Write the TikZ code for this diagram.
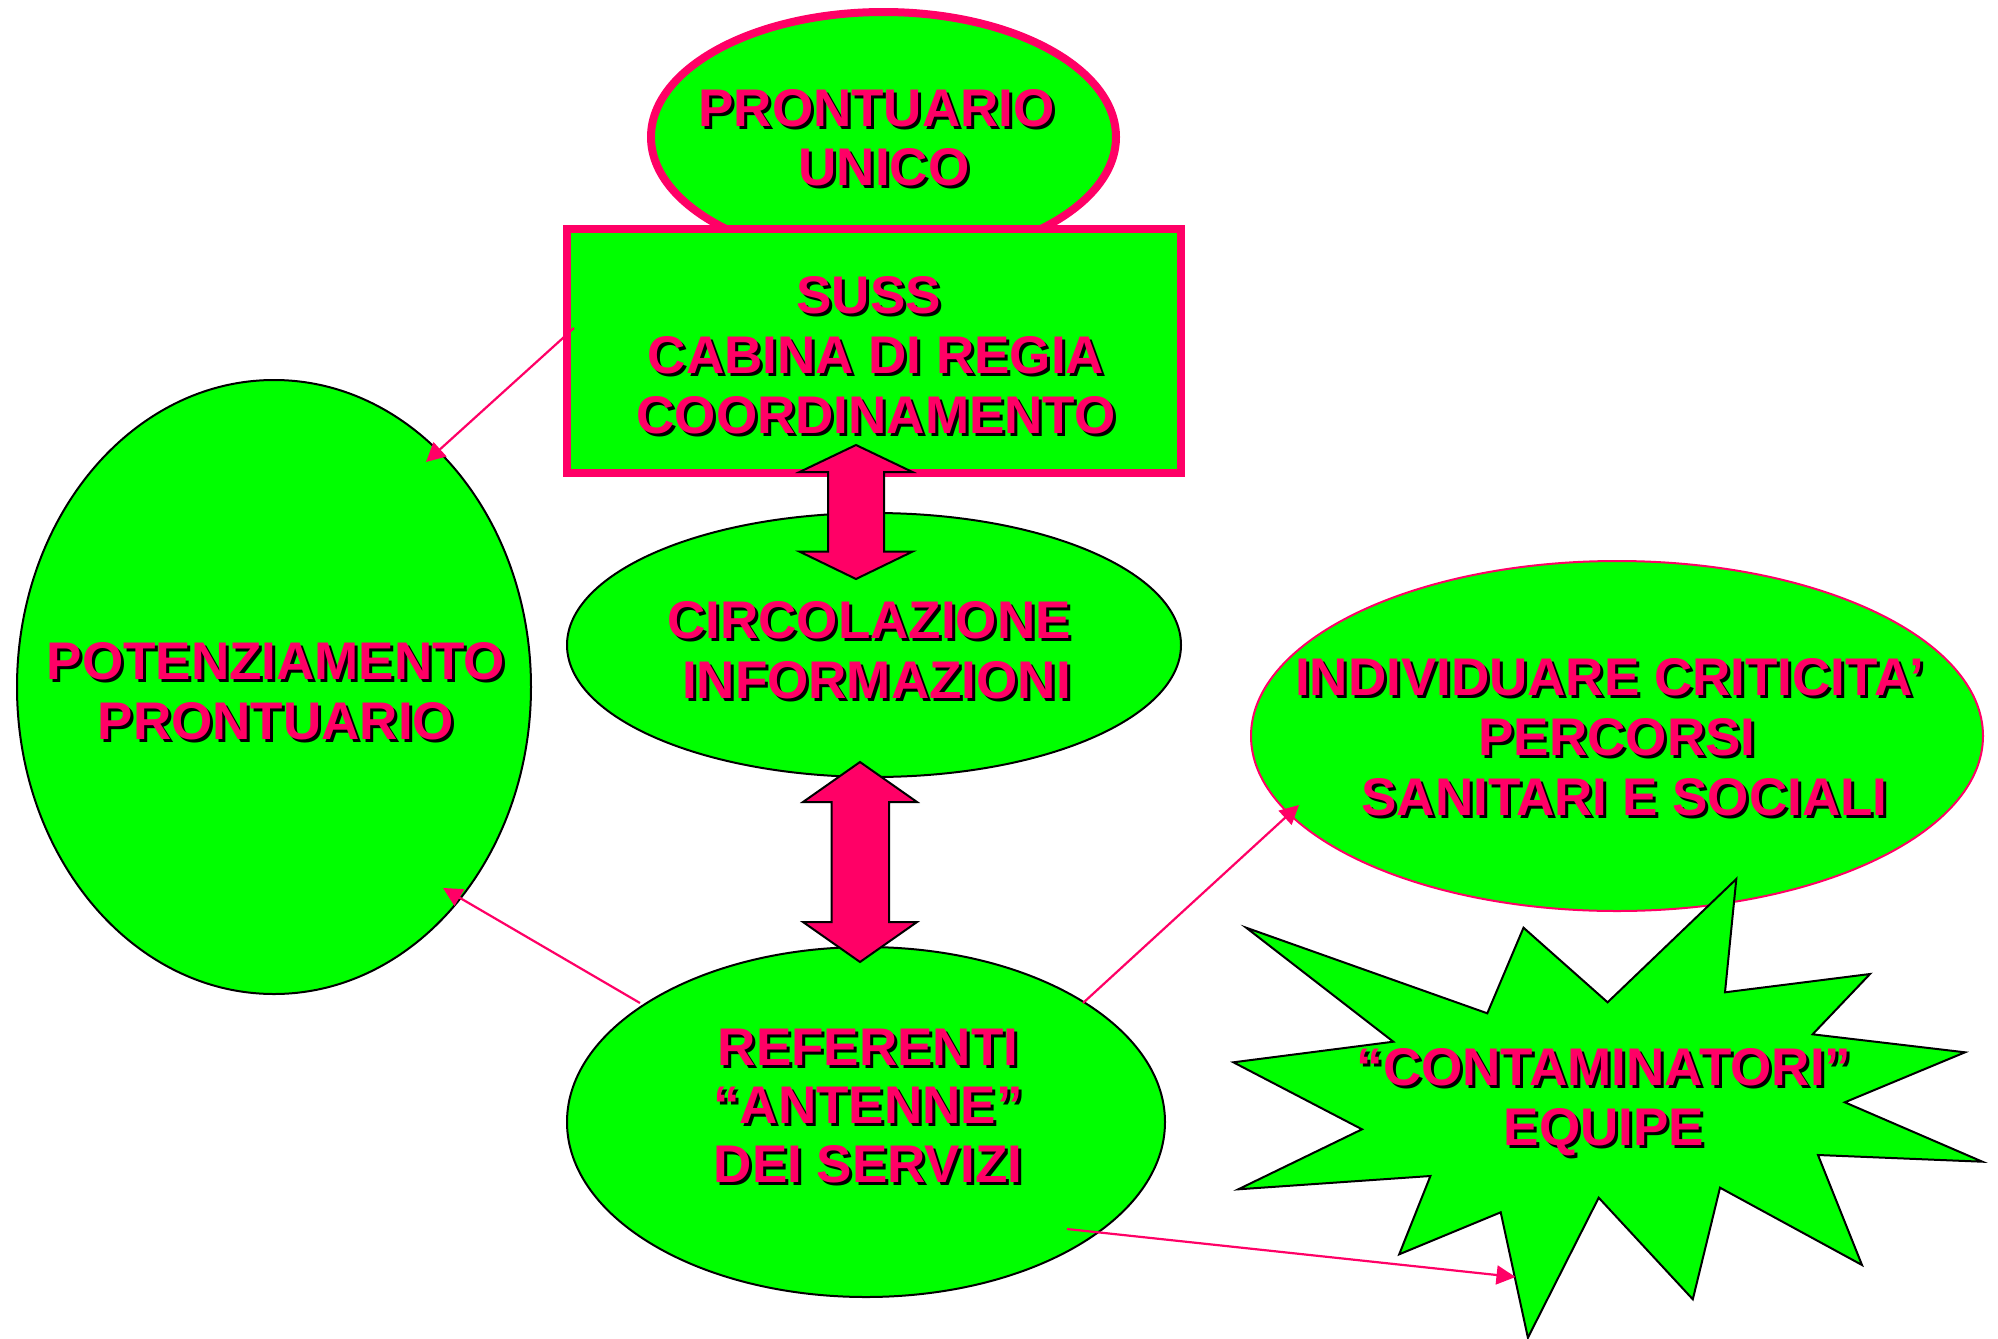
\documentclass[tikz,border=0pt]{standalone}
\usepackage{fontspec}
\setmainfont{Liberation Sans}
\usetikzlibrary{arrows.meta,shapes.geometric}
\definecolor{pinkc}{RGB}{255,0,102}
\definecolor{greenc}{RGB}{0,255,0}
\newcommand{\shtxt}[4][]{%
  \node[lbl,#1,text=black,xshift=3pt,yshift=-3pt] (#2-sh) at (#3) {#4};
  \node[lbl,#1,text=pinkc] (#2) at (#3) {#4};}
\begin{document}
\begin{tikzpicture}[x=1pt,y=-1pt,
  lbl/.style={inner sep=0pt, outer sep=0pt, align=center, anchor=base, font=\fontsize{53}{60}\selectfont\bfseries},
  tight/.style={font=\fontsize{53}{58.5}\selectfont\bfseries},
  thickell/.style={ellipse, fill=greenc, draw=pinkc, line width=8pt, inner sep=0pt},
  thinell/.style={ellipse, fill=greenc, draw=black, line width=2pt, inner sep=0pt},
  pinkell/.style={ellipse, fill=greenc, draw=pinkc, line width=2pt, inner sep=0pt},
  thickbox/.style={rectangle, fill=greenc, draw=pinkc, line width=8pt, inner sep=0pt},
  conn/.style={draw=pinkc, line width=2.2pt, -{Triangle[length=19pt,width=19pt]}},
  blockarrow/.style={fill=pinkc, draw=black, line width=2pt, line join=miter},
  burst/.style={fill=greenc, draw=black, line width=2pt, line join=miter}]
\path[use as bounding box, fill=white] (0,0) rectangle (1998,1339);

% shapes
\node[thickell, minimum width=465pt, minimum height=250pt] (top) at (883.5,137) {};
\node[thickbox, minimum width=614pt, minimum height=244pt] (suss) at (874,351) {};
\node[thinell, minimum width=614pt, minimum height=264pt] (circ) at (874,645) {};
\node[thinell, minimum width=514pt, minimum height=614pt] (pot) at (274,687) {};
\node[thinell, minimum width=598pt, minimum height=350pt] (ref) at (866,1122) {};
\node[pinkell, minimum width=732pt, minimum height=350pt] (indiv) at (1617,736) {};

% starburst
\draw[burst] (1246.2,927.7) -- (1487.3,1013.3) -- (1523.5,927.7) -- (1607.6,1002.3)
  -- (1736.3,879) -- (1725,992.3) -- (1870,974) -- (1812.6,1034.3) -- (1965,1052.3)
  -- (1844.8,1102.3) -- (1982.4,1161.7) -- (1818,1155) -- (1862,1265) -- (1720,1187.7)
  -- (1692.8,1299.3) -- (1598.7,1197.7) -- (1527.9,1337.7) -- (1500.7,1212.3)
  -- (1399.2,1254.3) -- (1430.4,1176) -- (1238.3,1189.3) -- (1362,1129.3)
  -- (1233.4,1062.3) -- (1393.3,1041.7) -- cycle;

% block arrows
\draw[blockarrow] (856,445) -- (912.5,472) -- (884,472) -- (884,551.6) -- (912.5,551.6)
  -- (856,579) -- (799.5,551.6) -- (828,551.6) -- (828,472) -- (799.5,472) -- cycle;
\draw[blockarrow] (860,762) -- (917,802) -- (889,802) -- (889,922) -- (917,922)
  -- (860,962) -- (803,922) -- (831.5,922) -- (831.5,802) -- (803,802) -- cycle;

% connectors
\coordinate (c1s) at (574,328);  \coordinate (c1e) at (426,462);
\coordinate (c2s) at (640,1003); \coordinate (c2e) at (443,888);
\coordinate (c3s) at (1083,1003); \coordinate (c3e) at (1299,805);
\coordinate (c4s) at (1067,1229); \coordinate (c4e) at (1515.5,1277);
\draw[conn] (c1s) -- (c1e);
\draw[conn] (c2s) -- (c2e);
\draw[conn] (c3s) -- (c3e);
\draw[conn] (c4s) -- (c4e);

% texts (anchor = baseline of last line)
\shtxt[tight]{ttop}{884,185}{PRONTUARIO\hspace*{0.28em}\\UNICO}
\shtxt{tsuss}{876,433}{SUSS\hspace*{0.28em}\\CABINA DI REGIA\\COORDINAMENTO}
\shtxt{tcirc}{869,698}{CIRCOLAZIONE\\\hspace*{0.28em}INFORMAZIONI}
\shtxt{tpot}{276,739}{POTENZIAMENTO\\PRONTUARIO}
\shtxt{tindiv}{1617,815}{INDIVIDUARE CRITICITA’\hspace*{0.28em}\\PERCORSI\\\hspace*{0.28em}SANITARI E SOCIALI}
\shtxt[tight]{tref}{868,1182}{REFERENTI\\“ANTENNE”\\DEI SERVIZI}
\shtxt{tcont}{1604,1145}{“CONTAMINATORI”\\EQUIPE}
\end{tikzpicture}
\end{document}
